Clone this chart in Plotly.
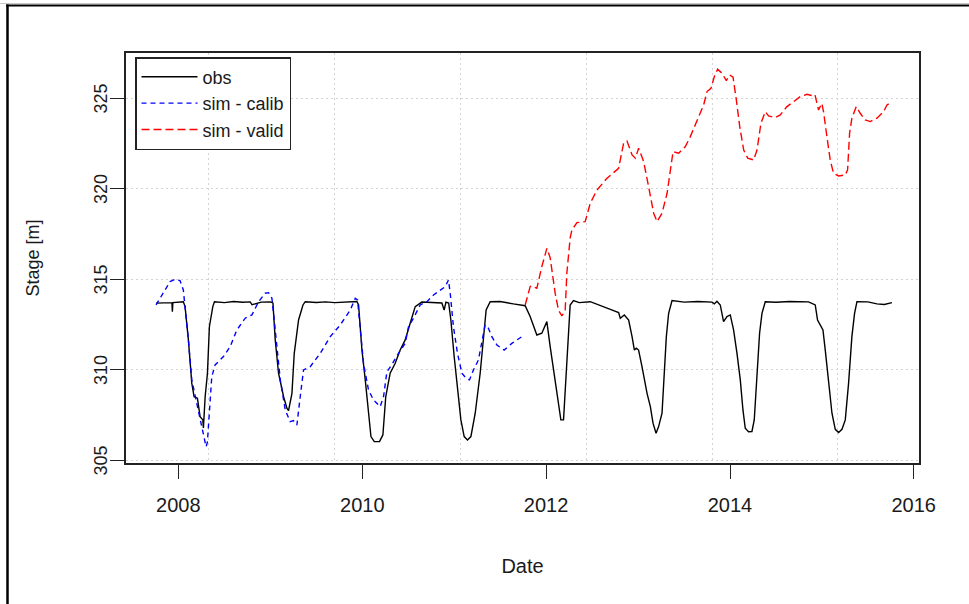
import pandas as pd
import plotly.graph_objects as go

# ---- observed stage (decimal year, m) ----
obs_t = [2007.757, 2007.90, 2007.93, 2007.935, 2007.94, 2008.054, 2008.073, 2008.109, 2008.146,
         2008.171, 2008.207, 2008.236, 2008.266, 2008.272, 2008.291, 2008.316, 2008.337, 2008.374,
         2008.392, 2008.50, 2008.60, 2008.70, 2008.78, 2008.80, 2008.90, 2009.0, 2009.027, 2009.052,
         2009.088, 2009.143, 2009.18, 2009.197, 2009.234, 2009.259, 2009.306, 2009.354, 2009.379,
         2009.5, 2009.6, 2009.7, 2009.8, 2009.94, 2009.959, 2009.996, 2010.032, 2010.067, 2010.094,
         2010.13, 2010.187, 2010.224, 2010.24, 2010.255, 2010.303, 2010.358, 2010.412, 2010.467,
         2010.521, 2010.576, 2010.648, 2010.75, 2010.866, 2010.891, 2010.91, 2010.94, 2010.964,
         2011.0, 2011.036, 2011.073, 2011.109, 2011.145, 2011.182, 2011.229, 2011.283, 2011.319,
         2011.348, 2011.392, 2011.5, 2011.645, 2011.773, 2011.827, 2011.9, 2011.954, 2012.009,
         2012.045, 2012.099, 2012.135, 2012.161, 2012.19, 2012.208, 2012.233, 2012.262, 2012.298,
         2012.36, 2012.48, 2012.589, 2012.698, 2012.788, 2012.806, 2012.85, 2012.897, 2012.934,
         2012.959, 2012.98, 2013.005, 2013.042, 2013.097, 2013.133, 2013.162, 2013.195, 2013.223,
         2013.26, 2013.285, 2013.307, 2013.332, 2013.369, 2013.5, 2013.65, 2013.804, 2013.83,
         2013.858, 2013.894, 2013.93, 2013.967, 2014.003, 2014.039, 2014.076, 2014.112, 2014.141,
         2014.166, 2014.202, 2014.239, 2014.264, 2014.294, 2014.322, 2014.348, 2014.384, 2014.5,
         2014.65, 2014.855, 2014.928, 2014.953, 2014.983, 2015.012, 2015.037, 2015.073, 2015.11,
         2015.146, 2015.182, 2015.219, 2015.255, 2015.291, 2015.327, 2015.356, 2015.382, 2015.5,
         2015.6, 2015.68, 2015.763]
obs_v = [313.69, 313.72, 313.72, 313.22, 313.72, 313.77, 313.5, 311.66, 309.27,
         308.52, 308.44, 307.42, 307.24, 306.8, 308.52, 309.82, 312.39, 313.5,
         313.77, 313.72, 313.78, 313.74, 313.76, 313.6, 313.75, 313.76, 313.7, 311.66,
         309.82, 308.52, 307.88, 307.75, 308.71, 310.92, 312.76, 313.59, 313.77,
         313.73, 313.76, 313.72, 313.74, 313.78, 313.6, 311.1, 309.45, 307.61, 306.32,
         306.04, 306.04, 306.41, 307.5, 308.52, 309.82, 310.37, 311.1, 311.66,
         312.58, 313.5, 313.75, 313.72, 313.7, 313.31, 313.75, 313.7, 312.76,
         310.74, 308.9, 307.24, 306.32, 306.13, 306.32, 307.61, 309.82, 312.03,
         313.31, 313.77, 313.78, 313.65, 313.55, 312.95, 311.93, 312.03, 312.67,
         311.29, 309.45, 307.97, 307.24, 307.24, 308.9, 311.66, 313.59, 313.83,
         313.72, 313.77, 313.54, 313.35, 313.17, 312.86, 313.04, 312.76, 311.84,
         311.1, 311.2, 311.1, 310.18, 308.71, 307.97, 307.06, 306.5, 306.87,
         307.61, 309.63, 311.84, 313.13, 313.83, 313.75, 313.78, 313.75, 313.65,
         313.8, 313.59, 312.67, 312.95, 313.04, 312.21, 310.92, 309.45, 307.79,
         306.78, 306.59, 306.6, 307.24, 309.45, 312.03, 313.13, 313.77, 313.74,
         313.78, 313.76, 313.59, 312.76, 312.49, 312.21, 311.1, 309.45, 307.61,
         306.72, 306.54, 306.72, 307.24, 309.27, 311.84, 313.13, 313.77, 313.76,
         313.65, 313.62, 313.72]

# ---- simulated stage, calibration period ----
calib_t = [2007.757, 2007.837, 2007.91, 2007.964, 2008.018, 2008.054, 2008.073, 2008.109, 2008.146,
           2008.193, 2008.236, 2008.272, 2008.301, 2008.315, 2008.337, 2008.363, 2008.399, 2008.49,
           2008.563, 2008.635, 2008.726, 2008.799, 2008.871, 2008.943, 2008.979, 2009.016, 2009.041,
           2009.07, 2009.107, 2009.161, 2009.215, 2009.25, 2009.288, 2009.324, 2009.36, 2009.433,
           2009.542, 2009.651, 2009.76, 2009.869, 2009.923, 2009.948, 2009.977, 2010.013, 2010.067,
           2010.122, 2010.194, 2010.231, 2010.268, 2010.322, 2010.394, 2010.467, 2010.503, 2010.557,
           2010.63, 2010.703, 2010.775, 2010.848, 2010.902, 2010.938, 2010.957, 2010.992, 2011.036,
           2011.084, 2011.131, 2011.167, 2011.21, 2011.264, 2011.301, 2011.337, 2011.373, 2011.41,
           2011.465, 2011.544, 2011.628, 2011.737]
calib_v = [313.59, 314.24, 314.88, 315.01, 314.94, 314.42, 313.5, 311.66, 309.45,
           308.34, 307.24, 306.5, 305.76, 306.0, 307.97, 309.63, 310.28, 310.74,
           311.29, 312.21, 312.86, 313.04, 313.77, 314.24, 314.27, 313.96, 312.76,
           311.1, 309.45, 307.79, 307.14, 307.2, 306.96, 308.52, 310.0, 310.18,
           310.92, 311.84, 312.49, 313.31, 313.96, 313.87, 312.39, 310.37, 308.9,
           308.34, 307.97, 308.52, 309.9, 310.3, 310.92, 311.47, 312.39, 312.86,
           313.59, 313.77, 314.14, 314.42, 314.6, 314.97, 314.24, 312.39, 310.92,
           309.82, 309.54, 309.45, 310.0, 310.55, 311.47, 312.49, 312.3, 311.84,
           311.38, 311.1, 311.47, 311.84]

# ---- simulated stage, validation period ----
valid_t = [2011.773, 2011.827, 2011.845, 2011.9, 2011.954, 2012.009, 2012.045, 2012.099, 2012.135,
           2012.172, 2012.208, 2012.226, 2012.262, 2012.281, 2012.335, 2012.425, 2012.48, 2012.553,
           2012.662, 2012.788, 2012.842, 2012.879, 2012.934, 2012.97, 2013.005, 2013.06, 2013.114,
           2013.169, 2013.206, 2013.26, 2013.315, 2013.343, 2013.38, 2013.441, 2013.514, 2013.568,
           2013.641, 2013.713, 2013.75, 2013.793, 2013.829, 2013.865, 2013.913, 2013.96, 2013.996,
           2014.033, 2014.069, 2014.106, 2014.149, 2014.193, 2014.257, 2014.294, 2014.337, 2014.384,
           2014.42, 2014.493, 2014.547, 2014.62, 2014.692, 2014.765, 2014.838, 2014.903, 2014.925,
           2014.964, 2015.0, 2015.018, 2015.055, 2015.091, 2015.127, 2015.182, 2015.255, 2015.28,
           2015.302, 2015.327, 2015.374, 2015.418, 2015.472, 2015.527, 2015.6, 2015.672, 2015.709,
           2015.763]
valid_v = [313.59, 314.6, 314.64, 314.51, 315.71, 316.72, 316.2, 314.24, 313.31,
           312.98, 313.3, 315.34, 317.3, 317.73, 318.14, 318.19, 319.21, 319.94,
           320.59, 321.14, 322.52, 322.65, 321.88, 321.7, 322.25, 321.51, 320.13,
           318.66, 318.19, 318.66, 319.76, 320.87, 322.06, 321.97, 322.34, 322.89,
           323.72, 324.64, 325.38, 325.56, 326.2, 326.61, 326.39, 325.98, 326.3,
           326.17, 324.92, 323.44, 322.15, 321.7, 321.6, 322.15, 323.63, 324.27,
           324.03, 323.94, 324.09, 324.55, 324.82, 325.1, 325.23, 325.14, 325.2,
           324.36, 324.73, 324.27, 322.89, 321.6, 320.87, 320.72, 320.77, 321.05,
           323.08, 323.91, 324.55, 324.18, 323.81, 323.72, 323.91, 324.27, 324.64,
           324.82]

# ---- axes ----
year_ticks = ["2008-01-01", "2010-01-01", "2012-01-01", "2014-01-01", "2016-01-01"]
year_labels = ["2008", "2010", "2012", "2014", "2016"]
grid_dates = ["2008-05-01", "2009-09-13", "2011-01-26", "2012-06-09", "2013-10-22", "2015-03-06"]
stage_ticks = [305, 310, 315, 320, 325]
stage_labels = ["305", "310", "315", "320", "325"]
x_range = ["2007-06-07", "2016-01-22"]
y_range = [304.86, 327.51]


def to_date(t):
    yr = int(t)
    start = pd.Timestamp(yr, 1, 1)
    return start + (pd.Timestamp(yr + 1, 1, 1) - start) * (t - yr)


def dates(ts):
    return [to_date(t) for t in ts]


FONT = "Liberation Sans, Arial, sans-serif"
INK = "#1a1a1a"
W, H = 969, 604
L, R, T, B = 126, 50, 53, 141
PW, PH = W - L - R, H - T - B


def px(x):
    return (x - L) / PW


def py(y):
    return (H - B - y) / PH


fig = go.Figure()
fig.add_trace(go.Scatter(x=dates(obs_t), y=obs_v, mode="lines", name="obs",
                         line=dict(color="black", width=1.4)))
fig.add_trace(go.Scatter(x=dates(calib_t), y=calib_v, mode="lines", name="sim - calib",
                         line=dict(color="#0000ff", width=1.4, dash="5px,4px")))
fig.add_trace(go.Scatter(x=dates(valid_t), y=valid_v, mode="lines", name="sim - valid",
                         line=dict(color="#ff0000", width=1.4, dash="8px,4px")))

# vertical stage labels beside the y ticks
for v, lab in zip(stage_ticks, stage_labels):
    fig.add_annotation(x=px(101), xref="paper", y=v, yref="y", text=lab, textangle=-90,
                       showarrow=False, xanchor="center", yanchor="middle",
                       font=dict(size=18, family=FONT, color=INK))

fig.update_layout(
    width=W, height=H,
    margin=dict(l=L, r=R, t=T, b=B, pad=0),
    paper_bgcolor="white", plot_bgcolor="white",
    font=dict(family=FONT, color=INK, size=18),
    showlegend=True,
    legend=dict(x=px(135), y=py(57), xanchor="left", yanchor="top",
                bgcolor="white", bordercolor="#222", borderwidth=1.5,
                font=dict(size=18, family=FONT, color=INK),
                itemwidth=56, tracegroupgap=0),
    xaxis=dict(type="date", range=x_range, tickmode="array", tickvals=year_ticks,
               ticktext=year_labels, ticks="outside", ticklen=14, tickwidth=1.3,
               tickcolor="#222", showgrid=False, zeroline=False,
               showline=True, mirror=True, linecolor="#222", linewidth=1.5,
               tickfont=dict(size=20), ticklabelstandoff=9,
               minor=dict(tickmode="array", tickvals=grid_dates, showgrid=True,
                          gridcolor="#d3d3d3", griddash="2px,3px", gridwidth=1, ticks=""),
               title=dict(text="Date", font=dict(size=20), standoff=44)),
    yaxis=dict(range=y_range, tickmode="array", tickvals=stage_ticks,
               showticklabels=False, ticks="outside", ticklen=14,
               tickwidth=1.3, tickcolor="#222",
               showgrid=True, gridcolor="#d3d3d3", griddash="2px,3px", gridwidth=1,
               zeroline=False, showline=True, mirror=True, linecolor="#222", linewidth=1.5,
               title=dict(text="Stage [m]", font=dict(size=18), standoff=66)),
    shapes=[
        dict(type="line", xref="paper", yref="paper", x0=px(0), x1=px(W + 5), y0=py(3.5), y1=py(3.5),
             line=dict(color="#c8c8c8", width=1)),
        dict(type="line", xref="paper", yref="paper", x0=px(6), x1=px(W + 5), y0=py(5.5), y1=py(5.5),
             line=dict(color="black", width=2)),
        dict(type="line", xref="paper", yref="paper", x0=px(7.5), x1=px(7.5), y0=py(4.5), y1=py(H + 5),
             line=dict(color="black", width=2.5)),
    ],
)

fig.write_html("out.html")
